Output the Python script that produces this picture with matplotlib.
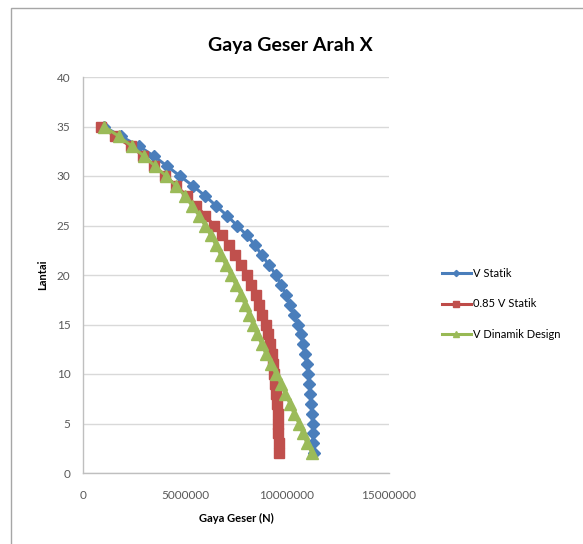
import matplotlib.pyplot as plt
from matplotlib.patches import Rectangle

# Storey numbers, top floor first
lantai = list(range(35, 1, -1))

# Static storey shear V Statik (N), floors 35 -> 2
v_statik = [1.03e6, 1.86e6, 2.75e6, 3.48e6, 4.12e6, 4.75e6, 5.39e6, 5.98e6,
            6.52e6, 7.06e6, 7.55e6, 8.04e6, 8.43e6, 8.77e6, 9.12e6, 9.46e6,
            9.71e6, 9.95e6, 10.15e6, 10.34e6, 10.54e6, 10.69e6, 10.78e6,
            10.88e6, 10.98e6, 11.03e6, 11.08e6, 11.13e6, 11.18e6, 11.22e6,
            11.25e6, 11.27e6, 11.29e6, 11.32e6]

# 85 % of the static shear
v_statik_085 = [0.85 * v for v in v_statik]

# Design dynamic storey shear (N), floors 35 -> 2
v_dinamik = [1.03e6, 1.76e6, 2.40e6, 2.99e6, 3.53e6, 4.07e6, 4.56e6, 5.00e6,
             5.34e6, 5.69e6, 5.98e6, 6.27e6, 6.52e6, 6.76e6, 7.01e6, 7.25e6,
             7.50e6, 7.75e6, 7.94e6, 8.14e6, 8.33e6, 8.53e6, 8.77e6, 8.97e6,
             9.22e6, 9.46e6, 9.71e6, 9.90e6, 10.15e6, 10.34e6, 10.59e6,
             10.78e6, 10.98e6, 11.23e6]

x_ticks = [0, 5000000, 10000000, 15000000]
y_ticks = [0, 5, 10, 15, 20, 25, 30, 35, 40]

plt.rcParams['font.family'] = ['Lato', 'DejaVu Sans']

W, H = 583, 544
fig = plt.figure(figsize=(W / 100, H / 100), dpi=100)

# chart frame
fig.patches.append(Rectangle((11 / W, -0.1), 1.2, 1 - 8 / H + 0.1,
                             transform=fig.transFigure, fill=False,
                             edgecolor='#a6a6a6', lw=1.0))

ax = fig.add_axes([83 / W, 1 - 473 / H, (389 - 83) / W, (473 - 77) / H])

ax.plot(v_statik, lantai, color='#4a7ebb', lw=2.2, marker='D', ms=6.3,
        mfc='#4a7ebb', mec='#4a7ebb', label='V Statik', zorder=3)
ax.plot(v_statik_085, lantai, color='#be4b48', lw=2.2, marker='s', ms=7.8,
        mfc='#c0504d', mec='#c0504d', label='0.85 V Statik', zorder=4)
ax.plot(v_dinamik, lantai, color='#98b954', lw=2.2, marker='^', ms=8.5,
        mfc='#9bbb59', mec='#9bbb59', label='V Dinamik Design', zorder=5)

ax.set_xlim(0, 15000000)
ax.set_ylim(0, 40)
ax.set_xticks(x_ticks)
ax.set_xticklabels([str(t) for t in x_ticks])
ax.set_yticks(y_ticks)
ax.tick_params(length=0, labelsize=8.5, labelcolor='#595959')
ax.tick_params(axis='x', pad=12)
ax.tick_params(axis='y', pad=9)

ax.grid(axis='y', color='#d9d9d9', lw=1.0)
ax.set_axisbelow(True)
for side in ['top', 'right']:
    ax.spines[side].set_visible(False)
for side in ['left', 'bottom']:
    ax.spines[side].set_color('#bfbfbf')
    ax.spines[side].set_linewidth(1.0)

ax.set_xlabel('Gaya Geser (N)', fontsize=8, fontweight='bold', labelpad=9)
ax.set_ylabel('Lantai', fontsize=8, fontweight='bold', labelpad=6)

fig.text(290 / W, 1 - 45 / H, 'Gaya Geser Arah X', ha='center', va='center',
         fontsize=14, fontweight='bold')

fig.legend(loc='upper left', bbox_to_anchor=(432 / W, 1 - 258 / H),
           frameon=False, fontsize=8, handlelength=2.6, handletextpad=0.15,
           labelspacing=1.75, markerscale=0.5)

fig.savefig('out.png', dpi=100)
